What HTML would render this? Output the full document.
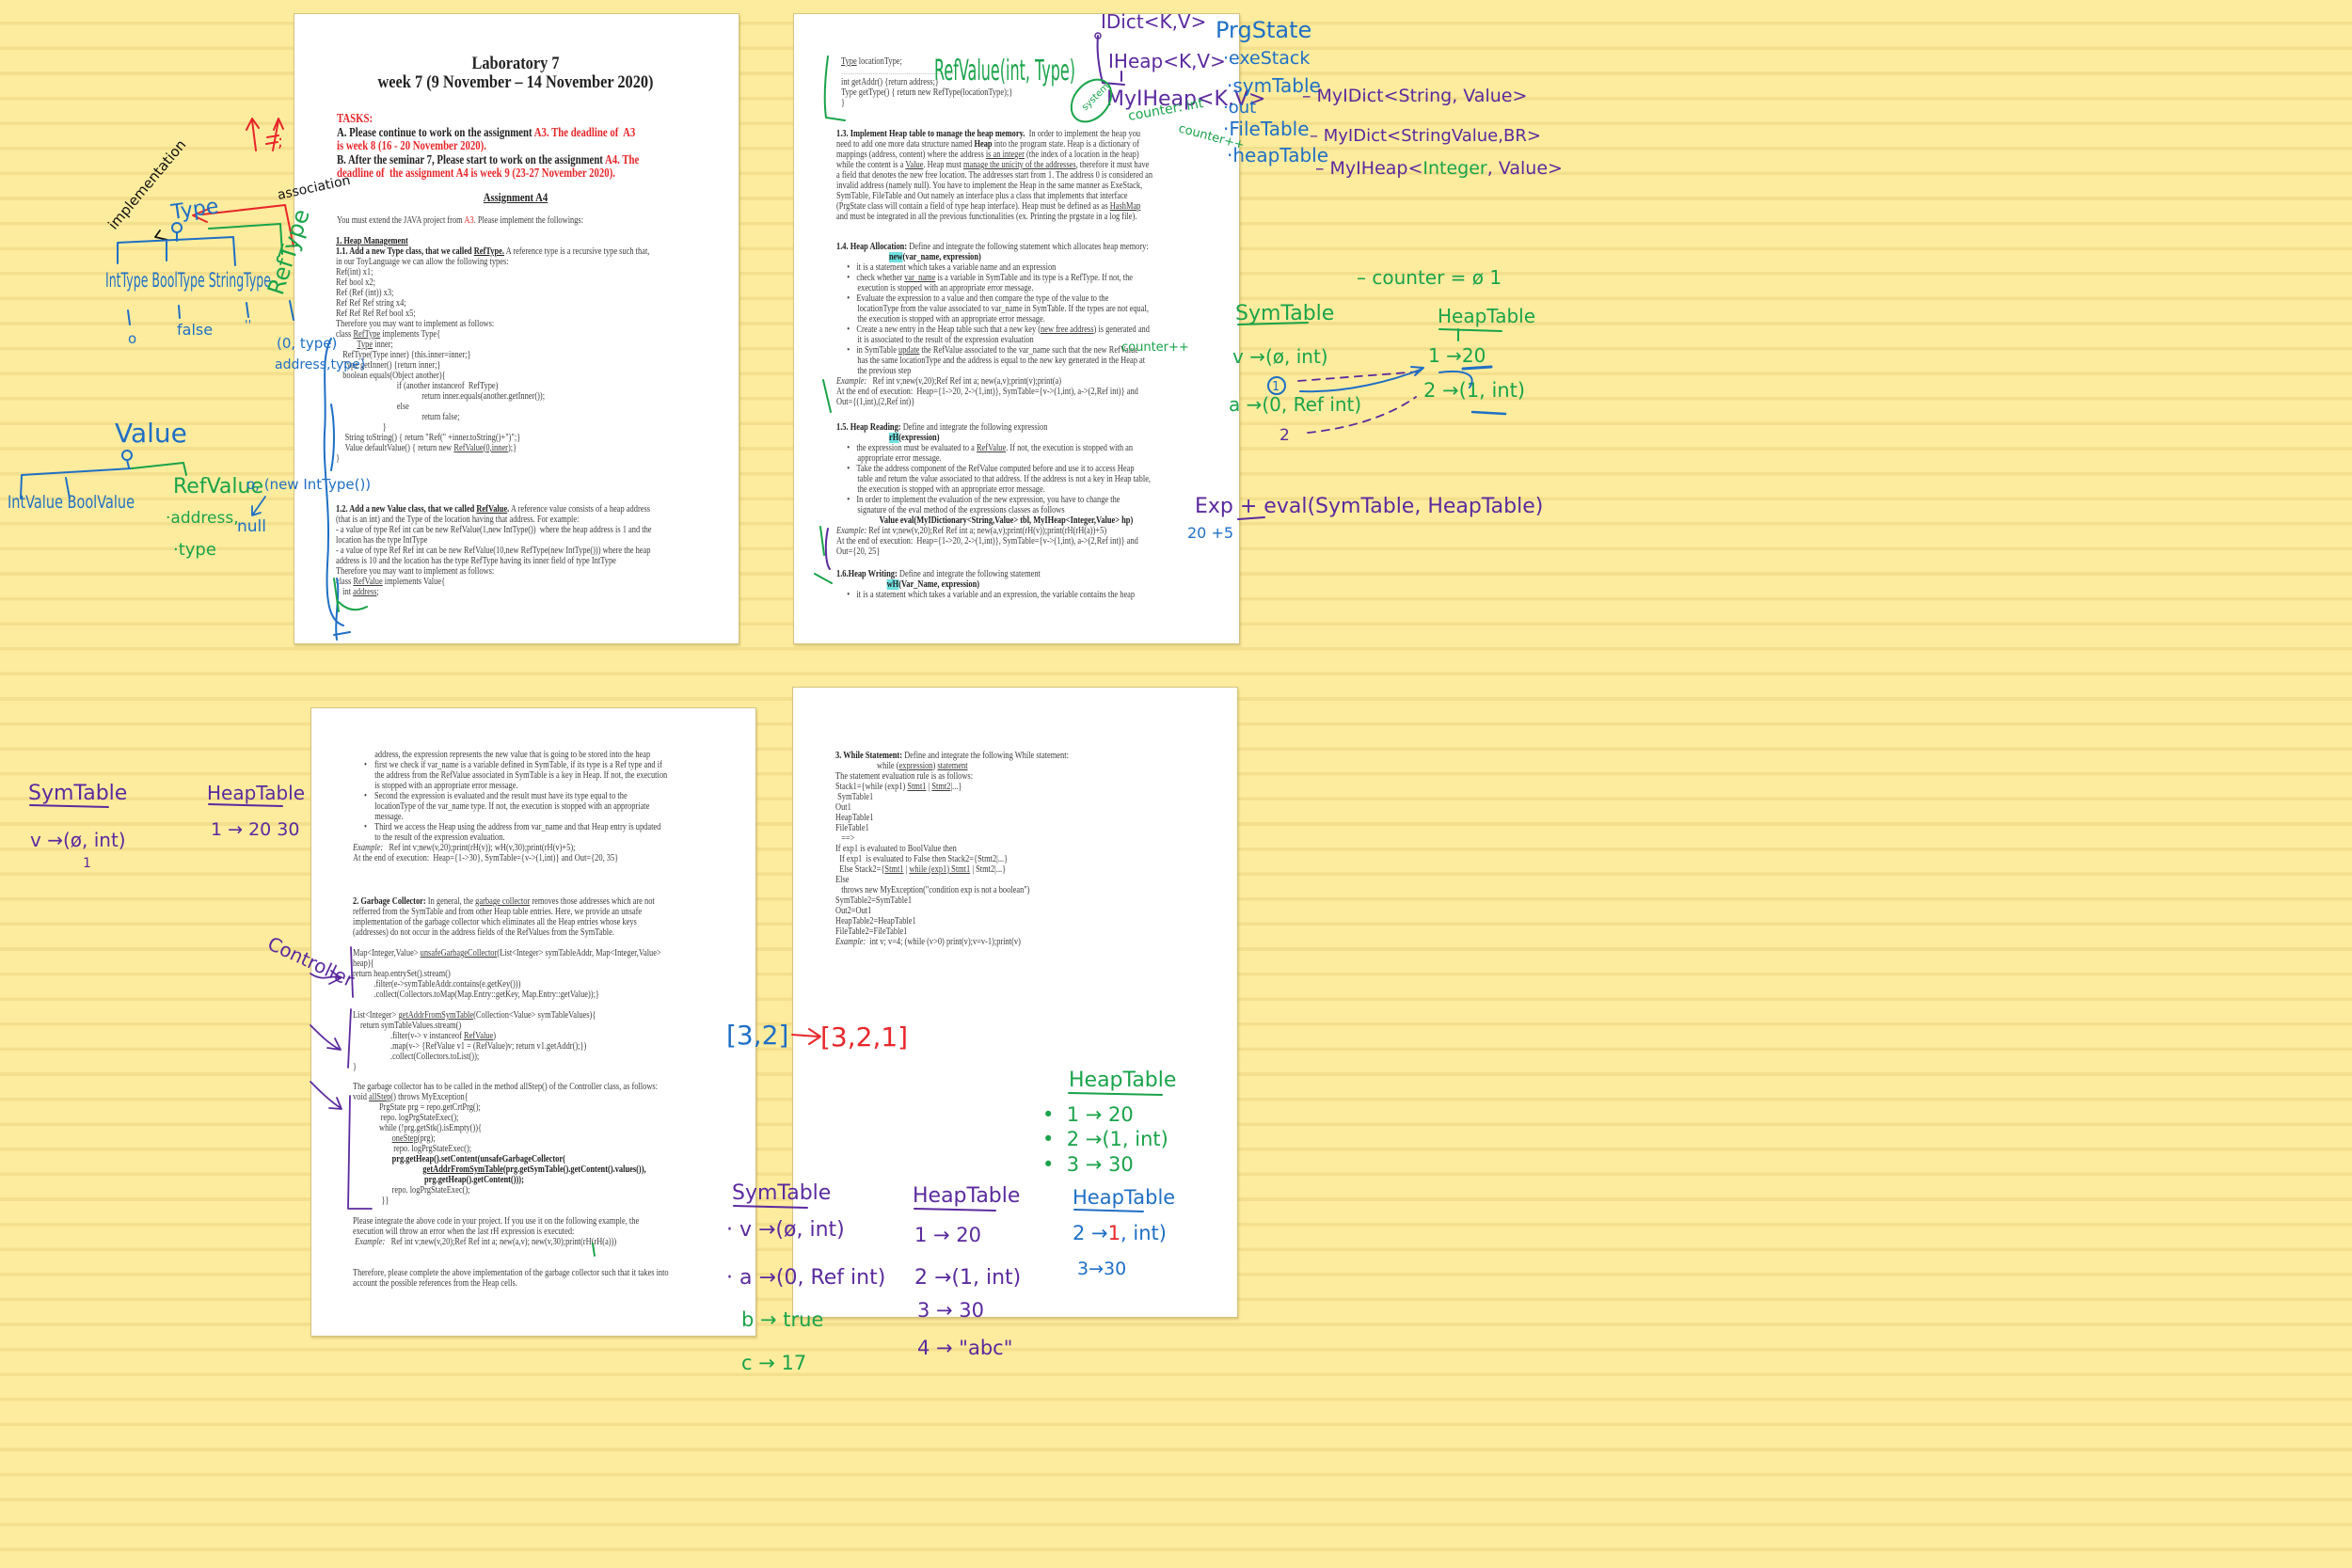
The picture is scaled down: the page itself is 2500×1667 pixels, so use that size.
<!DOCTYPE html>
<html><head><meta charset="utf-8">
<style>
html,body{margin:0;padding:0}
body{width:2500px;height:1667px;overflow:hidden;position:relative;
background:repeating-linear-gradient(to bottom,#feec9e 0px,#feec9e 23px,#f4df8e 23px,#f4df8e 26.6px);}
.p{position:absolute;background:#fff;border:1px solid #d3c27f;box-shadow:1px 2px 2px rgba(160,140,60,.35)}
.t{position:absolute;font-family:"Liberation Serif",serif;font-size:10.5px;line-height:11px;color:#3c3c3c;white-space:nowrap;transform:scaleX(.8);transform-origin:0 0}
.t b{color:#222}
.r{color:#e8262a}
.hl{background:#6fe0e0}
svg{position:absolute;left:0;top:0}
svg text{font-family:"DejaVu Sans",sans-serif;font-weight:400}
</style></head><body>

<div class="p" style="left:312px;top:14px;width:472px;height:669px"></div>
<div class="p" style="left:843px;top:14px;width:473px;height:669px"></div>
<div class="p" style="left:330px;top:752px;width:472px;height:667px"></div>
<div class="p" style="left:842px;top:730px;width:472px;height:669px"></div>

<!-- Page 1 -->
<div class="t" style="left:548px;top:58px;transform:translateX(-50%) scaleX(.86);transform-origin:50% 0;font-size:19px;line-height:20px;text-align:center;color:#111"><b>Laboratory 7<br>week 7 (9 November – 14 November 2020)</b></div>
<div class="t" style="left:358px;top:119px;font-size:13.3px;line-height:14.5px;transform:scaleX(.81);color:#222"><b><span class="r">TASKS:</span><br>A. Please continue to work on the assignment <span class="r">A3. The deadline of&nbsp; A3</span><br><span class="r">is week 8 (16 - 20 November 2020).</span><br>B. After the seminar 7, Please start to work on the assignment <span class="r">A4. The</span><br><span class="r">deadline of&nbsp; the assignment A4 is week 9 (23-27 November 2020).</span></b></div>
<div class="t" style="left:548px;top:204px;transform:translateX(-50%) scaleX(.82);transform-origin:50% 0;font-size:13px;color:#e8262a"><b><u>Assignment A4</u></b></div>
<div class="t" style="left:358px;top:229px">You must extend the JAVA project from <span class="r">A3</span>. Please implement the followings:</div>
<div class="t" style="left:357px;top:251px"><b><u>1. Heap Management</u></b><br><b>1.1. Add a new Type class, that we called <u>RefType.</u></b> A reference type is a recursive type such that,<br>in our ToyLanguage we can allow the following types:<br>Ref(int) x1;<br>Ref bool x2;<br>Ref (Ref (int)) x3;<br>Ref Ref Ref string x4;<br>Ref Ref Ref Ref bool x5;<br>Therefore you may want to implement as follows:<br>class <u>RefType</u> implements Type{<br><span style="padding-left:28px"></span><u>Type</u> inner;<br><span style="padding-left:9px"></span>RefType(Type inner) {this.inner=inner;}<br><span style="padding-left:9px"></span>Type getInner() {return inner;}<br><span style="padding-left:9px"></span>boolean equals(Object another){<br><span style="padding-left:81px"></span>if (another instanceof&nbsp; RefType)<br><span style="padding-left:114px"></span>return inner.equals(another.getInner());<br><span style="padding-left:81px"></span>else<br><span style="padding-left:114px"></span>return false;<br><span style="padding-left:62px"></span>}<br><span style="padding-left:12px"></span>String toString() { return "Ref(" +inner.toString()+")";}<br><span style="padding-left:12px"></span>Value defaultValue() { return new <u>RefValue</u>(<u>0,inner</u>);}<br>}</div>
<div class="t" style="left:357px;top:536px"><b>1.2. Add a new Value class, that we called <u>RefValue</u>.</b> A reference value consists of a heap address<br>(that is an int) and the Type of the location having that address. For example:<br>- a value of type Ref int can be new RefValue(1,new IntType())&nbsp; where the heap address is 1 and the<br>location has the type IntType<br>- a value of type Ref Ref int can be new RefValue(10,new RefType(new IntType())) where the heap<br>address is 10 and the location has the type RefType having its inner field of type IntType<br>Therefore you may want to implement as follows:<br>class <u>RefValue</u> implements Value{<br><span style="padding-left:9px"></span>int <u>address</u>;</div>

<!-- Page 2 -->
<div class="t" style="left:894px;top:60px"><u>Type</u> locationType;<br><span style="color:#bbb">.........................................................</span><br>int getAddr() {return address;}<br>Type getType() { return new RefType(locationType);}<br>}</div>
<div class="t" style="left:889px;top:137px"><b>1.3. Implement Heap table to manage the heap memory.</b>&nbsp; In order to implement the heap you<br>need to add one more data structure named <b>Heap</b> into the program state. Heap is a dictionary of<br>mappings (address, content) where the address <u>is an integer</u> (the index of a location in the heap)<br>while the content is a <u>Value</u>. Heap must <u>manage the unicity of the addresses</u>, therefore it must have<br>a field that denotes the new free location. The addresses start from 1. The address 0 is considered an<br>invalid address (namely null). You have to implement the Heap in the same manner as ExeStack,<br>SymTable, FileTable and Out namely an interface plus a class that implements that interface<br>(PrgState class will contain a field of type heap interface). Heap must be defined as as <u>HashMap</u><br>and must be integrated in all the previous functionalities (ex. Printing the prgstate in a log file).</div>
<div class="t" style="left:889px;top:257px"><b>1.4. Heap Allocation:</b> Define and integrate the following statement which allocates heap memory:<br><span style="padding-left:70px"></span><b><span class="hl">new</span>(var_name, expression)</b><br>
<span style="padding-left:14px">•</span><span style="padding-left:9px"></span>it is a statement which takes a variable name and an expression<br>
<span style="padding-left:14px">•</span><span style="padding-left:9px"></span>check whether <u>var_name</u> is a variable in SymTable and its type is a RefType. If not, the<br><span style="padding-left:28px"></span>execution is stopped with an appropriate error message.<br>
<span style="padding-left:14px">•</span><span style="padding-left:9px"></span>Evaluate the expression to a value and then compare the type of the value to the<br><span style="padding-left:28px"></span>locationType from the value associated to var_name in SymTable. If the types are not equal,<br><span style="padding-left:28px"></span>the execution is stopped with an appropriate error message.<br>
<span style="padding-left:14px">•</span><span style="padding-left:9px"></span>Create a new entry in the Heap table such that a new key (<u>new free address</u>) is generated and<br><span style="padding-left:28px"></span>it is associated to the result of the expression evaluation<br>
<span style="padding-left:14px">•</span><span style="padding-left:9px"></span>in SymTable <u>update</u> the RefValue associated to the var_name such that the new RefValue<br><span style="padding-left:28px"></span>has the same locationType and the address is equal to the new key generated in the Heap at<br><span style="padding-left:28px"></span>the previous step<br>
<i>Example:</i>&nbsp;&nbsp; Ref int v;new(v,20);Ref Ref int a; new(a,v);print(v);print(a)<br>At the end of execution:&nbsp; Heap={1-&gt;20, 2-&gt;(1,int)}, SymTable={v-&gt;(1,int), a-&gt;(2,Ref int)} and<br>Out={(1,int),(2,Ref int)}</div>
<div class="t" style="left:889px;top:449px"><b>1.5. Heap Reading:</b> Define and integrate the following expression<br><span style="padding-left:70px"></span><b><span class="hl">rH</span>(expression)</b><br>
<span style="padding-left:14px">•</span><span style="padding-left:9px"></span>the expression must be evaluated to a <u>RefValue</u>. If not, the execution is stopped with an<br><span style="padding-left:28px"></span>appropriate error message.<br>
<span style="padding-left:14px">•</span><span style="padding-left:9px"></span>Take the address component of the RefValue computed before and use it to access Heap<br><span style="padding-left:28px"></span>table and return the value associated to that address. If the address is not a key in Heap table,<br><span style="padding-left:28px"></span>the execution is stopped with an appropriate error message.<br>
<span style="padding-left:14px">•</span><span style="padding-left:9px"></span>In order to implement the evaluation of the new expression, you have to change the<br><span style="padding-left:28px"></span>signature of the eval method of the expressions classes as follows<br><span style="padding-left:57px"></span><b>Value eval(MyIDictionary&lt;String,Value&gt; tbl, MyIHeap&lt;Integer,Value&gt; hp)</b><br>
<i>Example:</i> Ref int v;new(v,20);Ref Ref int a; new(a,v);print(rH(v));print(rH(rH(a))+5)<br>At the end of execution:&nbsp; Heap={1-&gt;20, 2-&gt;(1,int)}, SymTable={v-&gt;(1,int), a-&gt;(2,Ref int)} and<br>Out={20, 25}</div>
<div class="t" style="left:889px;top:605px"><b>1.6.Heap Writing:</b> Define and integrate the following statement<br><span style="padding-left:67px"></span><b><span class="hl">wH</span>(Var_Name, expression)</b><br><span style="padding-left:14px">•</span><span style="padding-left:9px"></span>it is a statement which takes a variable and an expression, the variable contains the heap</div>

<!-- Page 3 -->
<div class="t" style="left:375px;top:797px"><span style="padding-left:29px"></span>address, the expression represents the new value that is going to be stored into the heap<br>
<span style="padding-left:15px">•</span><span style="padding-left:10px"></span>first we check if var_name is a variable defined in SymTable, if its type is a Ref type and if<br><span style="padding-left:29px"></span>the address from the RefValue associated in SymTable is a key in Heap. If not, the execution<br><span style="padding-left:29px"></span>is stopped with an appropriate error message.<br>
<span style="padding-left:15px">•</span><span style="padding-left:10px"></span>Second the expression is evaluated and the result must have its type equal to the<br><span style="padding-left:29px"></span>locationType of the var_name type. If not, the execution is stopped with an appropriate<br><span style="padding-left:29px"></span>message.<br>
<span style="padding-left:15px">•</span><span style="padding-left:10px"></span>Third we access the Heap using the address from var_name and that Heap entry is updated<br><span style="padding-left:29px"></span>to the result of the expression evaluation.<br>
<i>Example:</i>&nbsp;&nbsp; Ref int v;new(v,20);print(rH(v)); wH(v,30);print(rH(v)+5);<br>At the end of execution:&nbsp; Heap={1-&gt;30}, SymTable={v-&gt;(1,int)} and Out={20, 35}</div>
<div class="t" style="left:375px;top:953px"><b>2. Garbage Collector:</b> In general, the <u>garbage collector</u> removes those addresses which are not<br>refferred from the SymTable and from other Heap table entries. Here, we provide an unsafe<br>implementation of the garbage collector which eliminates all the Heap entries whose keys<br>(addresses) do not occur in the address fields of the RefValues from the SymTable.</div>
<div class="t" style="left:375px;top:1008px">Map&lt;Integer,Value&gt; <u>unsafeGarbageCollector</u>(List&lt;Integer&gt; symTableAddr, Map&lt;Integer,Value&gt;<br>heap){<br>return heap.entrySet().stream()<br><span style="padding-left:28px"></span>.filter(e-&gt;symTableAddr.contains(e.getKey()))<br><span style="padding-left:28px"></span>.collect(Collectors.toMap(Map.Entry::getKey, Map.Entry::getValue));}</div>
<div class="t" style="left:375px;top:1074px">List&lt;Integer&gt; <u>getAddrFromSymTable</u>(Collection&lt;Value&gt; symTableValues){<br><span style="padding-left:10px"></span>return symTableValues.stream()<br><span style="padding-left:50px"></span>.filter(v-&gt; v instanceof <u>RefValue</u>)<br><span style="padding-left:50px"></span>.map(v-&gt; {RefValue v1 = (RefValue)v; return v1.getAddr();})<br><span style="padding-left:50px"></span>.collect(Collectors.toList());<br>}</div>
<div class="t" style="left:375px;top:1150px">The garbage collector has to be called in the method allStep() of the Controller class, as follows:<br>void <u>allStep</u>() throws MyException{<br><span style="padding-left:35px"></span>PrgState prg = repo.getCrtPrg();<br><span style="padding-left:37px"></span>repo. logPrgStateExec();<br><span style="padding-left:35px"></span>while (!prg.getStk().isEmpty()){<br><span style="padding-left:52px"></span><u>oneStep</u>(prg);<br><span style="padding-left:54px"></span>repo. logPrgStateExec();<br><b class="r"><span style="padding-left:52px"></span>prg.getHeap().setContent(unsafeGarbageCollector(<br><span style="padding-left:93px"></span><u>getAddrFromSymTable</u>(prg.getSymTable().getContent().values()),<br><span style="padding-left:95px"></span>prg.getHeap().getContent()));</b><br><span style="padding-left:52px"></span>repo. logPrgStateExec();<br><span style="padding-left:38px"></span>}}</div>
<div class="t" style="left:375px;top:1293px">Please integrate the above code in your project. If you use it on the following example, the<br>execution will throw an error when the last rH expression is executed:<br>&nbsp;<i>Example:</i>&nbsp;&nbsp; Ref int v;new(v,20);Ref Ref int a; new(a,v); new(v,30);print(rH(rH(a)))</div>
<div class="t" style="left:375px;top:1348px">Therefore, please complete the above implementation of the garbage collector such that it takes into<br>account the possible references from the Heap cells.</div>

<!-- Page 4 -->
<div class="t" style="left:888px;top:798px"><b>3. While Statement:</b> Define and integrate the following While statement:<br><span style="padding-left:55px"></span>while (<u>expression</u>) <u>statement</u><br>The statement evaluation rule is as follows:<br>Stack1={while (exp1) <u>Stmt1</u> | <u>Stmt2</u>|...}<br>&nbsp;SymTable1<br>Out1<br>HeapTable1<br>FileTable1<br>&nbsp;&nbsp;&nbsp;==&gt;<br>If exp1 is evaluated to BoolValue then<br>&nbsp;&nbsp;If exp1&nbsp; is evaluated to False then Stack2={Stmt2|...}<br>&nbsp;&nbsp;Else Stack2={<u>Stmt1</u> | <u>while (exp1) Stmt1</u> | Stmt2|...}<br>Else<br>&nbsp;&nbsp;&nbsp;throws new MyException("condition exp is not a boolean")<br>SymTable2=SymTable1<br>Out2=Out1<br>HeapTable2=HeapTable1<br>FileTable2=FileTable1<br><i>Example:</i>&nbsp; int v; v=4; (while (v&gt;0) print(v);v=v-1);print(v)</div>

<svg width="2500" height="1667" viewBox="0 0 2500 1667" fill="none" stroke-linecap="round" stroke-linejoin="round">
<g stroke="#e8262a" stroke-width="2"><path d="M272,160 L268,128 M262,138 L268,126 L275,136"/><path d="M290,160 L296,128 M291,138 L296,126 L301,137"/><path d="M284,146 L296,144 M283,153 L295,151"/><path d="M312,262 L303,218 L215,228 M222,222 L205,229 L220,236"/></g>
<text x="295" y="156" fill="#e8262a" font-size="18">;</text>
<text x="0" y="0" fill="#111" font-size="15" transform="translate(122,245) rotate(-50)">implementation</text>
<text x="0" y="0" fill="#111" font-size="14" transform="translate(296,212) rotate(-12)">association</text>
<path d="M178,255 L165,252 M165,252 L170,245" stroke="#111" stroke-width="1.8"/>
<g stroke="#1f6fc5" stroke-width="2"><circle cx="188" cy="242" r="5"/><path d="M188,247 L188,256 M125,280 L125,258 L248,252 L250,282 M177,256 L177,277"/><path d="M136,330 L138,345 M190,325 L191,338 M262,322 L264,337 M308,320 L312,340"/></g>
<text x="183" y="232" fill="#1f6fc5" font-size="22" transform="rotate(-8 190 232)">Type</text>
<text x="112" y="305" fill="#1f6fc5" font-size="21" textLength="176" lengthAdjust="spacingAndGlyphs">IntType BoolType StringType</text>
<text x="0" y="0" fill="#1aa34a" font-size="24" transform="translate(300,315) rotate(-72)">RefType</text>
<path d="M300,270 L298,238 L222,243" stroke="#1aa34a" stroke-width="2"/>
<text x="136" y="365" fill="#1f6fc5" font-size="15">o</text>
<text x="188" y="356" fill="#1f6fc5" font-size="16">false</text>
<text x="260" y="350" fill="#1f6fc5" font-size="13">''</text>
<text x="294" y="370" fill="#1f6fc5" font-size="15">(0, type)</text>
<text x="292" y="392" fill="#1f6fc5" font-size="14">address,type)</text>
<path d="M352,360 C340,380 348,420 345,460 C343,500 352,540 348,600 C346,640 350,660 365,665" stroke="#1f6fc5" stroke-width="2"/>
<path d="M352,430 C356,450 356,480 352,500" stroke="#1f6fc5" stroke-width="2"/>
<text x="122" y="470" fill="#1f6fc5" font-size="28">Value</text>
<g stroke="#1f6fc5" stroke-width="2"><circle cx="135" cy="484" r="5"/><path d="M135,489 L137,497 M22,530 L23,505 L140,498 M70,508 L74,530"/></g>
<path d="M140,498 L195,492 L198,505" stroke="#1aa34a" stroke-width="2"/>
<text x="8" y="540" fill="#1f6fc5" font-size="19" textLength="135" lengthAdjust="spacingAndGlyphs">IntValue BoolValue</text>
<text x="184" y="524" fill="#1aa34a" font-size="22">RefValue</text>
<text x="262" y="520" fill="#1f6fc5" font-size="15">o, (new IntType())</text>
<text x="176" y="556" fill="#1aa34a" font-size="17">·address,</text>
<text x="184" y="590" fill="#1aa34a" font-size="18">·type</text>
<text x="252" y="565" fill="#1f6fc5" font-size="17">null</text>
<path d="M282,528 L268,548 M268,548 L268,538 M268,548 L277,545" stroke="#1f6fc5" stroke-width="1.8"/>
<path d="M358,680 C355,660 362,630 358,615 M355,675 L372,672" stroke="#1f6fc5" stroke-width="2"/>
<path d="M355,615 L360,650 M360,640 C370,650 380,650 390,645" stroke="#1aa34a" stroke-width="2"/>

<path d="M880,60 C876,90 876,110 878,125 L898,128" stroke="#1aa34a" stroke-width="2"/>
<text x="993" y="85" fill="#1aa34a" font-size="30" textLength="150" lengthAdjust="spacingAndGlyphs">RefValue(int, Type)</text>
<text x="1170" y="30" fill="#5b2a9e" font-size="20">IDict&lt;K,V&gt;</text>
<text x="1178" y="72" fill="#5b2a9e" font-size="20">IHeap&lt;K,V&gt;</text>
<text x="1176" y="112" fill="#5b2a9e" font-size="22">MyIHeap&lt;K,V&gt;</text>
<path d="M1167,38 C1165,60 1170,80 1172,88 L1195,90 M1192,76 L1192,86" stroke="#5b2a9e" stroke-width="2"/>
<circle cx="1167" cy="38" r="3" stroke="#5b2a9e" stroke-width="1.5"/>
<ellipse cx="1160" cy="107" rx="18" ry="25" transform="rotate(40 1160 107)" stroke="#1aa34a" stroke-width="2"/>
<text x="1148" y="112" fill="#1aa34a" font-size="10" transform="rotate(-45 1158 108)">system</text>
<text x="1200" y="128" fill="#1aa34a" font-size="14" transform="rotate(-10 1200 128)">counter: int</text>
<text x="1252" y="140" fill="#1aa34a" font-size="13" transform="rotate(15 1252 140)">counter++</text>
<text x="1292" y="40" fill="#1f6fc5" font-size="24">PrgState</text>
<text x="1300" y="68" fill="#1f6fc5" font-size="19">·exeStack</text>
<text x="1304" y="98" fill="#1f6fc5" font-size="20">·symTable</text>
<text x="1300" y="120" fill="#1f6fc5" font-size="18">·out</text>
<text x="1300" y="144" fill="#1f6fc5" font-size="20">·FileTable</text>
<text x="1304" y="172" fill="#1f6fc5" font-size="20">·heapTable</text>
<text x="1384" y="108" fill="#5b2a9e" font-size="19">– MyIDict&lt;String, Value&gt;</text>
<text x="1392" y="150" fill="#5b2a9e" font-size="18">– MyIDict&lt;StringValue,BR&gt;</text>
<text x="1398" y="185" fill="#5b2a9e" font-size="19">– MyIHeap&lt;<tspan fill="#1aa34a">Integer</tspan>, Value&gt;</text>
<text x="1192" y="373" fill="#1aa34a" font-size="13">counter++</text>
<text x="1442" y="302" fill="#1aa34a" font-size="20">– counter = ø 1</text>
<text x="1313" y="340" fill="#1aa34a" font-size="22">SymTable</text>
<path d="M1316,345 L1390,343" stroke="#1aa34a" stroke-width="2"/>
<text x="1528" y="343" fill="#1aa34a" font-size="20">HeapTable</text>
<path d="M1530,350 L1596,352 M1550,350 L1550,362" stroke="#1aa34a" stroke-width="2"/>
<text x="1310" y="386" fill="#1aa34a" font-size="20">v →(ø, int)</text>
<circle cx="1357" cy="410" r="9" stroke="#1f6fc5" stroke-width="2"/>
<text x="1352" y="415" fill="#1f6fc5" font-size="13">1</text>
<text x="1306" y="437" fill="#1aa34a" font-size="20">a →(0, Ref int)</text>
<text x="1360" y="468" fill="#5b2a9e" font-size="17">2</text>
<text x="1518" y="385" fill="#1aa34a" font-size="20">1 →20</text>
<path d="M1555,392 L1585,390" stroke="#1f6fc5" stroke-width="3"/>
<text x="1513" y="422" fill="#1aa34a" font-size="21">2 →(1, int)</text>
<path d="M1565,438 L1600,440" stroke="#1f6fc5" stroke-width="2.5"/>
<path d="M1380,405 L1510,395 M1390,460 C1440,455 1480,440 1505,422" stroke="#5b2a9e" stroke-width="1.8" stroke-dasharray="8,7"/>
<path d="M1382,416 C1430,418 1480,405 1512,392 M1500,390 L1513,391 L1504,399 M1530,396 C1560,392 1570,400 1562,412" stroke="#1f6fc5" stroke-width="2"/>
<text x="1270" y="545" fill="#5b2a9e" font-size="22">Exp + eval(SymTable, HeapTable)</text>
<path d="M1316,552 L1344,550" stroke="#5b2a9e" stroke-width="2"/>
<text x="1262" y="572" fill="#1f6fc5" font-size="16">20 +5</text>
<path d="M875,404 L883,438 M872,560 L876,590 M866,610 L884,620" stroke="#1aa34a" stroke-width="2"/>
<path d="M880,562 C876,580 878,600 882,605" stroke="#5b2a9e" stroke-width="2"/>

<text x="30" y="850" fill="#5b2a9e" font-size="22">SymTable</text>
<path d="M32,856 L115,858" stroke="#5b2a9e" stroke-width="2"/>
<text x="220" y="850" fill="#5b2a9e" font-size="20">HeapTable</text>
<path d="M222,855 L300,857" stroke="#5b2a9e" stroke-width="2"/>
<text x="32" y="900" fill="#5b2a9e" font-size="20">v →(ø, int)</text>
<text x="88" y="922" fill="#5b2a9e" font-size="14">1</text>
<text x="224" y="888" fill="#5b2a9e" font-size="19">1 → 20 30</text>
<text x="0" y="0" fill="#5b2a9e" font-size="20" transform="translate(283,1008) rotate(25)">Controller</text>
<g stroke="#5b2a9e" stroke-width="1.8"><path d="M330,1035 C345,1045 352,1035 360,1040 M352,1032 L362,1040 L350,1046"/><path d="M330,1090 C340,1100 350,1110 360,1115 M348,1114 L362,1116 L356,1104"/><path d="M330,1150 C340,1160 350,1170 362,1178 M350,1178 L363,1179 L358,1167"/>
<path d="M373,1007 L375,1060 M373,1073 L370,1135 M372,1165 L370,1285 L395,1285"/></g>
<text x="772" y="1110" fill="#1f6fc5" font-size="28">[3,2]</text>
<path d="M842,1100 L870,1102 M860,1094 L872,1102 L860,1110" stroke="#e8262a" stroke-width="2"/>
<text x="872" y="1112" fill="#e8262a" font-size="28">[3,2,1]</text>
<text x="1136" y="1155" fill="#1aa34a" font-size="22">HeapTable</text>
<path d="M1136,1162 L1235,1164" stroke="#1aa34a" stroke-width="2"/>
<text x="1108" y="1192" fill="#1aa34a" font-size="21">•&#160; 1 → 20</text>
<text x="1108" y="1218" fill="#1aa34a" font-size="21">•&#160; 2 →(1, int)</text>
<text x="1108" y="1245" fill="#1aa34a" font-size="21">•&#160; 3 → 30</text>
<text x="778" y="1275" fill="#5b2a9e" font-size="22">SymTable</text>
<path d="M780,1282 L858,1284" stroke="#5b2a9e" stroke-width="2"/>
<text x="970" y="1278" fill="#5b2a9e" font-size="22">HeapTable</text>
<path d="M972,1285 L1058,1287" stroke="#5b2a9e" stroke-width="2"/>
<text x="1140" y="1280" fill="#1f6fc5" font-size="21">HeapTable</text>
<path d="M1142,1286 L1215,1288" stroke="#1f6fc5" stroke-width="2"/>
<text x="772" y="1314" fill="#5b2a9e" font-size="22">· v →(ø, int)</text>
<text x="972" y="1320" fill="#5b2a9e" font-size="21">1 → 20</text>
<text x="1140" y="1318" fill="#1f6fc5" font-size="21">2 →<tspan fill="#e8262a">1</tspan>, int)</text>
<text x="1145" y="1355" fill="#1f6fc5" font-size="19">3→30</text>
<text x="772" y="1365" fill="#5b2a9e" font-size="22">· a →(0, Ref int)</text>
<text x="972" y="1365" fill="#5b2a9e" font-size="22">2 →(1, int)</text>
<text x="975" y="1400" fill="#5b2a9e" font-size="21">3 → 30</text>
<text x="975" y="1440" fill="#5b2a9e" font-size="21">4 → "abc"</text>
<text x="788" y="1410" fill="#1aa34a" font-size="21">b → true</text>
<text x="788" y="1456" fill="#1aa34a" font-size="21">c → 17</text>
<path d="M630,1322 L632,1335" stroke="#1aa34a" stroke-width="2"/>
</svg>
</body></html>
